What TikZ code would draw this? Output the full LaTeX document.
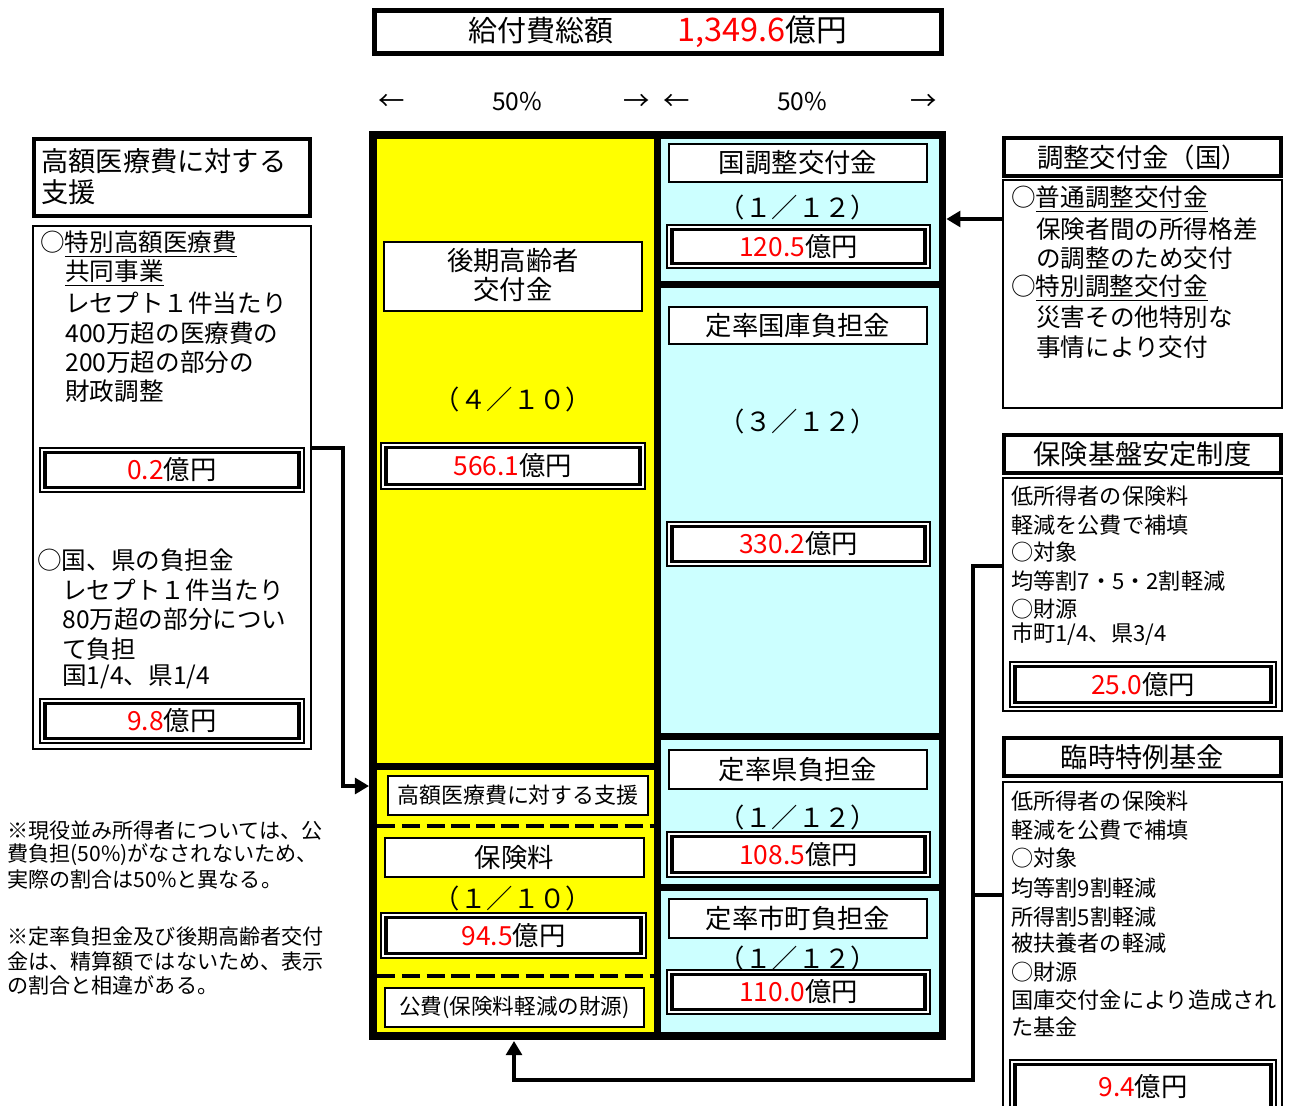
\documentclass[tikz,border=0pt]{standalone}
\usepackage{fontspec}
\setmainfont{Noto Sans CJK JP}
\usetikzlibrary{fit,arrows.meta}
\definecolor{ycol}{RGB}{255,255,0}
\definecolor{ccol}{RGB}{204,255,255}
\newcommand\fsz[1]{\fontsize{#1}{#1}\selectfont}
\newcommand\rd[1]{\textcolor{red}{#1}}
\tikzset{
  box/.style={inner sep=0pt, draw, line width=1pt, fill=white},
  hbox/.style={inner sep=0pt, draw, line width=2.4pt, fill=white},
  panel/.style={inner sep=0pt, draw=none},
  txt/.style={inner sep=0pt, anchor=west},
  ctr/.style={inner sep=0pt},
  conn/.style={line width=1.9pt, -{Triangle[length=8pt,width=9pt]}},
  dline/.style={line width=2.6pt, dash pattern=on 10.5pt off 3.6pt},
}
\newcommand\dbox[6]{%
  \node[box, line width=0.9pt, fit={(#2,#3)(#4,#5)}] (#1) {};
  \node[inner sep=0pt, draw, line width=1.8pt, fit={(#2+5,#3+4.5)(#4-5,#5-4.5)}] (#1i) {};
  \node[ctr, font=\fsz{15}] (#1t) at (#1.center) {\rd{#6}億円};
}
\begin{document}
\begin{tikzpicture}[x=0.02cm,y=-0.02cm]
\useasboundingbox (0,0) rectangle (1293,1105);
\fill[white] (0,0) rectangle (1293,1105);

% title
\node[hbox, line width=2.8pt, fit={(374.5,10.5)(941.5,53.5)}] (title) {};
\node[ctr, font=\fsz{16.5}] (titlet) at (title.center) {給付費総額\hspace{2.2em}{\fsz{18.5}\rd{1,349.6}}{\fsz{17.5}億円}};

% percentage row
\node[ctr, font=\fsz{15}] (pa1) at (392,102) {←};
\node[ctr, font=\fsz{14}] (pp1) at (517,101) {50\%};
\node[ctr, font=\fsz{15}] (pa2) at (637,102) {→};
\node[ctr, font=\fsz{15}] (pa3) at (677,102) {←};
\node[ctr, font=\fsz{14}] (pp2) at (802,101) {50\%};
\node[ctr, font=\fsz{15}] (pa4) at (924,102) {→};

% main box
\node[panel, fill=black, fit={(369,131)(946,1040)}] (bigbox) {};
\node[panel, fill=ycol, fit={(377,139)(654,763)}] (ly1) {};
\node[panel, fill=ycol, fit={(377,770)(654,1032)}] (ly2) {};
\node[panel, fill=ccol, fit={(661,139)(939,281)}] (rc1) {};
\node[panel, fill=ccol, fit={(661,288)(939,733)}] (rc2) {};
\node[panel, fill=ccol, fit={(661,740)(939,884)}] (rc3) {};
\node[panel, fill=ccol, fit={(661,891)(939,1032)}] (rc4) {};

% left column contents
\node[box, fit={(384,242)(642,311)}] (kouki) {};
\node[ctr, font=\fsz{15}] (kouki1) at (513,261) {後期高齢者};
\node[ctr, font=\fsz{15}] (kouki2) at (513,290) {交付金};
\node[ctr, font=\fsz{15}] (fr1) at (513,399) {（４／１０）};
\dbox{m1}{381}{443}{645}{489}{566.1}

\node[box, fit={(388,776)(648,815)}] (kgs) {};
\node[ctr, font=\fsz{12.5}] (kgst) at (kgs.center) {高額医療費に対する支援};
\draw[dline] (377,826) -- (654,826);
\node[box, fit={(385,838)(644,877)}] (hok) {};
\node[ctr, font=\fsz{15}] (hokt) at (hok.center) {保険料};
\node[ctr, font=\fsz{15}] (fr2) at (513,898) {（１／１０）};
\dbox{m2}{381}{913}{646}{958}{94.5}
\draw[dline] (377,976) -- (654,976);
\node[box, fit={(385,988)(644,1027)}] (kohi) {};
\node[ctr, font=\fsz{12.3}] (kohit) at (kohi.center) {公費(保険料軽減の財源)};

% right column contents
\node[box, fit={(669,144)(927,182)}] (kc) {};
\node[ctr, font=\fsz{15}] (kct) at (kc.center) {国調整交付金};
\node[ctr, font=\fsz{15}] (fr3) at (798,207) {（１／１２）};
\dbox{m3}{667}{225}{930}{268}{120.5}

\node[box, fit={(669,307)(927,344)}] (tk) {};
\node[ctr, font=\fsz{15}] (tkt) at (tk.center) {定率国庫負担金};
\node[ctr, font=\fsz{15}] (fr4) at (798,421) {（３／１２）};
\dbox{m4}{667}{522}{930}{566}{330.2}

\node[box, fit={(669,750)(927,789)}] (tken) {};
\node[ctr, font=\fsz{15}] (tkent) at (tken.center) {定率県負担金};
\node[ctr, font=\fsz{15}] (fr5) at (798,817) {（１／１２）};
\dbox{m5}{667}{832}{930}{877}{108.5}

\node[box, fit={(669,899)(927,938)}] (tsc) {};
\node[ctr, font=\fsz{15}] (tsct) at (tsc.center) {定率市町負担金};
\node[ctr, font=\fsz{15}] (fr6) at (798,958) {（１／１２）};
\dbox{m6}{667}{970}{930}{1014}{110.0}

% left side panel
\node[hbox, fit={(34,139)(310,216)}] (lhead) {};
\node[txt, font=\fsz{15.5}] (lh1) at (41,161) {高額医療費に対する};
\node[txt, font=\fsz{15.5}] (lh2) at (41,192) {支援};
\node[box, fit={(33,226)(311,749)}] (lcont) {};
\begin{scope}[every node/.style={txt, font=\fsz{14}}]
\node (l1) at (40,244) {○\underline{特別高額医療費}};
\node (l2) at (65,273) {\underline{共同事業}};
\node (l3) at (65,303) {レセプト１件当たり};
\node (l4) at (65,333) {400万超の医療費の};
\node (l5) at (65,362) {200万超の部分の};
\node (l6) at (65,391) {財政調整};
\node (l7) at (37,560) {○国、県の負担金};
\node (l8) at (62,590) {レセプト１件当たり};
\node (l9) at (62,619) {80万超の部分につい};
\node (l10) at (62,649) {て負担};
\node (l11) at (62,677) {国1/4、県1/4};
\end{scope}
\dbox{lm1}{40}{448}{304}{492}{0.2}
\dbox{lm2}{40}{699}{304}{743}{9.8}

% notes
\begin{scope}[every node/.style={txt, font=\fsz{12}}]
\node (n1) at (7,831) {※現役並み所得者については、公};
\node (n2) at (7,855) {費負担(50\%)がなされないため、};
\node (n3) at (7,879) {実際の割合は50\%と異なる。};
\node (n4) at (7,937) {※定率負担金及び後期高齢者交付};
\node (n5) at (7,961) {金は、精算額ではないため、表示};
\node (n6) at (7,985) {の割合と相違がある。};
\end{scope}

% right side panels
\node[hbox, fit={(1004,138)(1281,176)}] (rh1) {};
\node[ctr, font=\fsz{15}] (rh1t) at (rh1.center) {調整交付金（国）};
\node[box, fit={(1003,180)(1282,408)}] (rb1) {};
\begin{scope}[every node/.style={txt, font=\fsz{14}}]
\node (r11) at (1011,199) {○\underline{普通調整交付金}};
\node (r12) at (1036,229) {保険者間の所得格差};
\node (r13) at (1036,258) {の調整のため交付};
\node (r14) at (1011,288) {○\underline{特別調整交付金}};
\node (r15) at (1036,317) {災害その他特別な};
\node (r16) at (1036,347) {事情により交付};
\end{scope}

\node[hbox, fit={(1004,435)(1281,473)}] (rh2) {};
\node[ctr, font=\fsz{15.5}] (rh2t) at (rh2.center) {保険基盤安定制度};
\node[box, fit={(1003,478)(1282,711)}] (rb2) {};
\begin{scope}[every node/.style={txt, font=\fsz{12.6}}]
\node (r21) at (1011,496) {低所得者の保険料};
\node (r22) at (1011,525) {軽減を公費で補填};
\node (r23) at (1011,552) {○対象};
\node (r24) at (1011,581) {均等割7・5・2割軽減};
\node (r25) at (1011,609) {○財源};
\node (r26) at (1011,634) {市町1/4、県3/4};
\end{scope}
\dbox{rm1}{1010}{662}{1276}{707}{25.0}

\node[hbox, fit={(1004,738)(1281,776)}] (rh3) {};
\node[ctr, font=\fsz{15.5}] (rh3t) at (rh3.center) {臨時特例基金};
\node[box, fit={(1003,782)(1282,1120)}] (rb3) {};
\begin{scope}[every node/.style={txt, font=\fsz{12.6}}]
\node (r31) at (1011,801) {低所得者の保険料};
\node (r32) at (1011,830) {軽減を公費で補填};
\node (r33) at (1011,858) {○対象};
\node (r34) at (1011,888) {均等割9割軽減};
\node (r35) at (1011,917) {所得割5割軽減};
\node (r36) at (1011,943) {被扶養者の軽減};
\node (r37) at (1011,972) {○財源};
\node (r38) at (1011,1000) {国庫交付金により造成され};
\node (r39) at (1011,1027) {た基金};
\end{scope}
\dbox{rm2}{1010}{1060}{1276}{1114}{9.4}

% connectors
\coordinate (la) at (312,448);
\coordinate (lb) at (369,786);
\draw[conn] (la) -- (343,448) |- (lb);

\coordinate (ra) at (1003,219);
\draw[conn] (ra) -- (bigbox.east |- ra);

\coordinate (rb) at (1003,566);
\coordinate (rc) at (1003,895);
\coordinate (jn) at (973,895);
\coordinate (bt) at (514,1041);
\draw[line width=1.9pt] (rc) -- (jn);
\draw[conn] (rb) -- (973,566) -- (973,1080) -| (bt);
\end{tikzpicture}
\end{document}
